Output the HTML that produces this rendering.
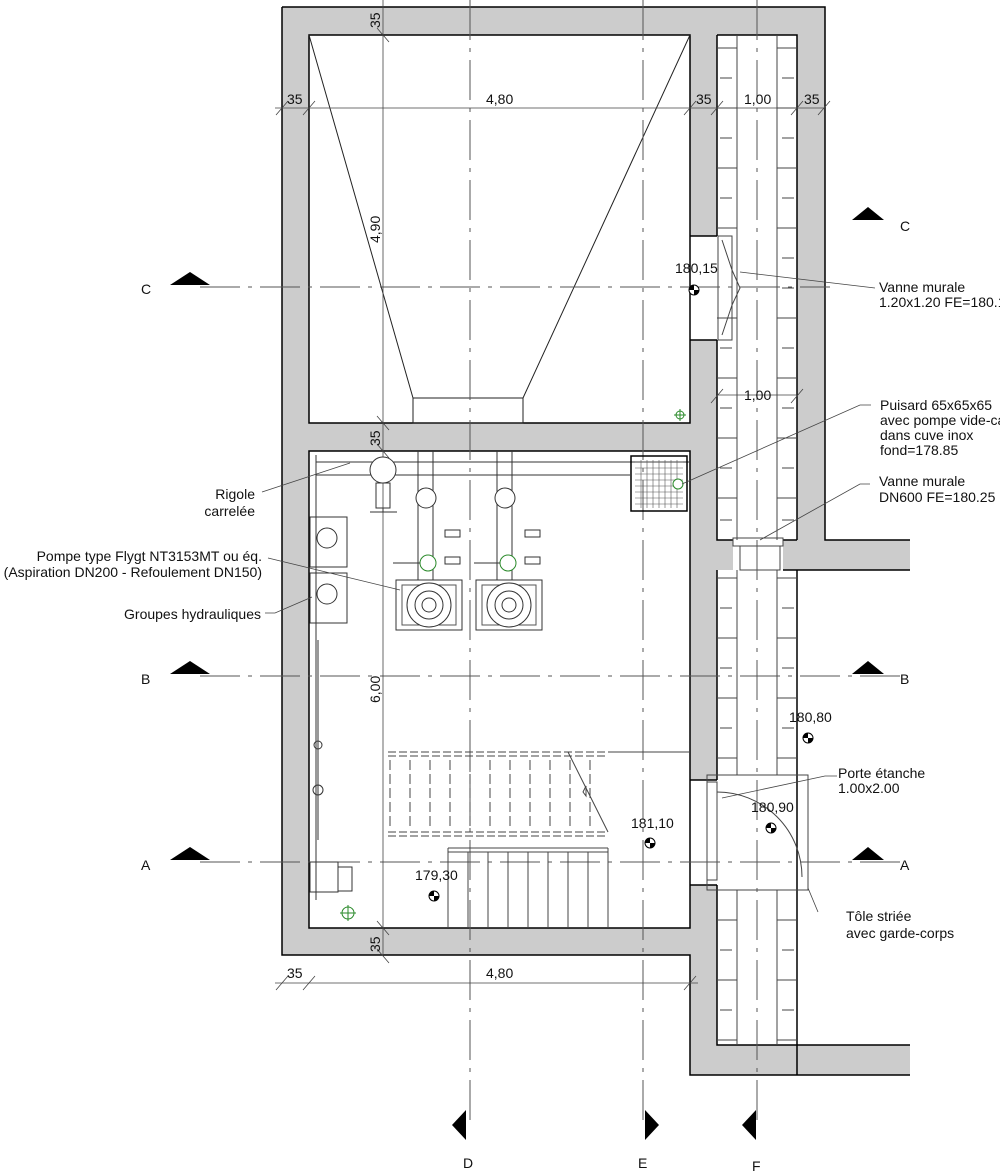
<!DOCTYPE html>
<html><head><meta charset="utf-8"><style>
html,body{margin:0;padding:0;background:#fff;}
svg{display:block;}
text{font-family:"Liberation Sans",sans-serif;font-size:14px;fill:#111;}
</style></head><body>
<svg width="1000" height="1171" viewBox="0 0 1000 1171" xmlns="http://www.w3.org/2000/svg">
<defs>
<g id="lvl"><circle r="5" fill="#fff" stroke="#000" stroke-width="1"/><path d="M0,0 L5,0 A5,5 0 0 1 0,5 Z M0,0 L-5,0 A5,5 0 0 1 0,-5 Z" fill="#000"/></g>
<g id="pump">
<rect x="-33" y="0" width="66" height="50" fill="#fff" stroke="#333"/>
<rect x="-27" y="5" width="54" height="40" fill="none" stroke="#555"/>
<circle cx="0" cy="25" r="22" fill="#fff" stroke="#333"/>
<circle cx="0" cy="25" r="14" fill="none" stroke="#333"/>
<circle cx="0" cy="25" r="7" fill="none" stroke="#333"/>
</g>
</defs>
<!-- gray walls -->
<g fill="#ccc" stroke="none">
<rect x="282" y="7" width="543" height="28"/>
<rect x="282" y="7" width="27" height="948"/>
<rect x="282" y="928" width="435" height="27"/>
<rect x="309" y="423" width="408" height="28"/>
<rect x="690" y="35" width="27" height="201"/>
<rect x="690" y="340" width="27" height="83"/>
<rect x="690" y="451" width="27" height="329"/>
<rect x="690" y="885" width="27" height="190"/>
<rect x="797" y="35" width="28" height="505"/>
<rect x="690" y="1045" width="220" height="30"/>
<rect x="783" y="540" width="127" height="30"/>
<rect x="690" y="540" width="43" height="30"/>
</g>
<g fill="none" stroke="#000" stroke-width="1.5">
<path d="M282,7 H825 V540 H910"/>
<path d="M282,7 V955 H690 V1075 H910"/>
<rect x="309" y="35" width="381" height="388"/>
<rect x="309" y="451" width="381" height="477"/>
<path d="M717,35 H797 V540 M717,35 V236 M717,340 V540 H733 M783,540 H797"/>
<path d="M690,236 H717 M690,340 H717"/>
<path d="M717,570 V780 M717,885 V1045 H910 M797,570 V1045 M783,570 H910"/>
<path d="M690,780 H717 M690,885 H717 M797,1045 V1075"/>
</g>
<!-- channel pattern -->
<g stroke="#444" stroke-width="1" fill="none">
<path d="M737,35 V540 M777,35 V540 M737,570 V775 M777,570 V775 M737,890 V1045 M777,890 V1045"/>
<path d="M717,48 H737 M777,48 H797 M717,108 H737 M777,108 H797 M717,168 H737 M777,168 H797 M717,228 H737 M777,228 H797 M717,318 H737 M777,318 H797 M717,378 H737 M777,378 H797 M717,438 H737 M777,438 H797 M717,498 H737 M777,498 H797"/>
<path d="M720,78 H732 M782,78 H794 M720,138 H732 M782,138 H794 M720,198 H732 M782,198 H794 M782,258 H794 M782,288 H794 M720,348 H732 M782,348 H794 M720,408 H732 M782,408 H794 M720,468 H732 M782,468 H794 M720,520 H732 M782,520 H794"/>
<path d="M717,578 H737 M777,578 H797 M717,638 H737 M777,638 H797 M717,698 H737 M777,698 H797 M717,758 H737 M777,758 H797"/>
<path d="M720,608 H732 M782,608 H794 M720,668 H732 M782,668 H794 M720,728 H732 M782,728 H794"/>
<path d="M717,920 H737 M777,920 H797 M717,980 H737 M777,980 H797 M717,1040 H737 M777,1040 H797"/>
<path d="M720,950 H732 M782,950 H794 M720,1010 H732 M782,1010 H794"/>
<rect x="718" y="236" width="14" height="104"/>
<path d="M722,240 L732,270 L740,288 L732,305 L722,335"/>
<rect x="733" y="538" width="50" height="8"/>
<rect x="740" y="546" width="40" height="24"/>
<rect x="707" y="775" width="101" height="115"/>
<rect x="707" y="782" width="10" height="98"/>
<path d="M717,792 A85,85 0 0 1 802,877"/>
</g>
<!-- hopper -->
<g stroke="#222" stroke-width="1" fill="none">
<path d="M309,35 L413,398 M690,35 L523,398"/>
<rect x="413" y="398" width="110" height="25"/>
</g>
<!-- axis lines -->
<g stroke="#555" stroke-width="1" stroke-dasharray="40,8,4,8" fill="none">
<path d="M470,0 V1120 M643,0 V1120 M757,0 V1120"/>
<path d="M200,287 H830 M200,676 H900 M200,862 H900"/>
</g>
<!-- dimension lines -->
<g stroke="#444" stroke-width="0.8" fill="none">
<path d="M275,108 H825 M383,0 V955 M275,983 H698"/>
<path d="M276,115 l12,-14 M303,115 l12,-14 M684,115 l12,-14 M711,115 l12,-14 M791,115 l12,-14 M818,115 l12,-14"/>
<path d="M377,28 l12,14 M377,416 l12,14 M377,444 l12,14 M377,921 l12,14 M377,949 l12,14"/>
<path d="M276,990 l12,-14 M303,990 l12,-14 M684,990 l12,-14"/>
<path d="M711,403 l12,-14 M791,403 l12,-14 M717,395 H797"/>
</g>
<g font-size="13">
<text x="287" y="104">35</text><text x="486" y="104">4,80</text><text x="696" y="104">35</text><text x="744" y="104">1,00</text><text x="804" y="104">35</text>
<text x="287" y="978">35</text><text x="486" y="978">4,80</text><text x="744" y="400">1,00</text>
<text transform="translate(380,28) rotate(-90)">35</text>
<text transform="translate(380,243) rotate(-90)">4,90</text>
<text transform="translate(380,446) rotate(-90)">35</text>
<text transform="translate(380,703) rotate(-90)">6,00</text>
<text transform="translate(380,952) rotate(-90)">35</text>
</g>
<!-- section markers -->
<g fill="#000">
<path d="M170,285 L190,272 L210,285 Z"/><path d="M170,674 L190,661 L210,674 Z"/><path d="M170,860 L190,847 L210,860 Z"/>
<path d="M852,220 L868,207 L884,220 Z"/><path d="M852,674 L868,661 L884,674 Z"/><path d="M852,860 L868,847 L884,860 Z"/>
<path d="M466,1110 L466,1140 L452,1125 Z"/><path d="M645,1110 L645,1140 L659,1125 Z"/><path d="M756,1110 L756,1140 L742,1125 Z"/>
</g>
<g font-size="15"><text x="141" y="294">C</text><text x="141" y="684">B</text><text x="141" y="870">A</text>
<text x="900" y="231">C</text><text x="900" y="684">B</text><text x="900" y="870">A</text>
<text x="463" y="1168">D</text><text x="638" y="1168">E</text><text x="752" y="1171">F</text></g>
<!-- pipes/equipment in pump room -->
<g stroke="#333" stroke-width="1" fill="none">
<path d="M316,462 H690 M316,475 H630"/>
<path d="M418,451 V580 M433,451 V580 M497,451 V580 M512,451 V580"/>
<circle cx="383" cy="470" r="13" fill="#fff"/><rect x="376" y="483" width="14" height="25"/><path d="M370,512 H397 M383,508 V512"/>
<circle cx="426" cy="498" r="10" fill="#fff"/><circle cx="505" cy="498" r="10" fill="#fff"/>
<circle cx="428" cy="563" r="8" stroke="#2a8a2a" fill="#fff"/><circle cx="508" cy="563" r="8" stroke="#2a8a2a" fill="#fff"/>
<path d="M393,563 H420 M474,563 H500"/>
<rect x="445" y="530" width="15" height="7"/><rect x="525" y="530" width="15" height="7"/>
<rect x="445" y="557" width="15" height="7"/><rect x="525" y="557" width="15" height="7"/>
<path d="M316,455 V900"/>
<rect x="310" y="517" width="37" height="50"/><rect x="310" y="573" width="37" height="50"/>
<circle cx="327" cy="538" r="10"/><circle cx="327" cy="594" r="10"/>
<path d="M318,640 V840"/>
<circle cx="318" cy="790" r="5"/><circle cx="318" cy="745" r="4"/>
<rect x="310" y="862" width="28" height="30"/><rect x="338" y="867" width="14" height="24"/>
<rect x="631" y="456" width="56" height="55" stroke="#000" stroke-width="1.5"/>
</g>
<g stroke="#555" stroke-width="0.6">
<path d="M635,462 H683 M635,468 H683 M635,474 H683 M635,480 H683 M635,486 H683 M635,492 H683 M635,498 H683 M635,504 H683"/>
<path d="M641,460 V508 M647,460 V508 M653,460 V508 M659,460 V508 M665,460 V508 M671,460 V508 M677,460 V508"/>
</g>
<circle cx="678" cy="484" r="5" fill="#fff" stroke="#2a8a2a"/>
<use href="#pump" x="429" y="580"/><use href="#pump" x="509" y="580"/>
<g stroke="#2a8a2a" fill="none"><circle cx="348" cy="913" r="6"/><path d="M340,913 H356 M348,905 V921"/><circle cx="680" cy="415" r="4"/><path d="M674,415 H686 M680,409 V421"/></g>
<!-- stairs -->
<g stroke="#444" stroke-width="1" fill="none">
<path d="M388,752 H608 M388,756 H608 M388,832 H608 M388,836 H608" stroke-dasharray="8,3"/>
<path d="M608,752 H690 M568,752 L608,832 M583,792 l3,-6 l0,10 z"/>
<path d="M390,760 V830 M410,760 V830 M430,760 V830 M450,760 V830 M470,760 V830 M490,760 V830 M510,760 V830 M530,760 V830 M550,760 V830 M570,760 V830 M590,760 V830" stroke-dasharray="10,4"/>
<path d="M448,848 H608 M448,852 H608 M448,848 V928 M468,852 V928 M488,852 V928 M508,852 V928 M528,852 V928 M548,852 V928 M568,852 V928 M588,852 V928 M608,848 V928"/>
</g>
<!-- levels -->
<use href="#lvl" x="694" y="290"/><use href="#lvl" x="808" y="738"/><use href="#lvl" x="771" y="828"/><use href="#lvl" x="650" y="843"/><use href="#lvl" x="434" y="896"/>
<g font-size="13"><text x="675" y="273">180,15</text><text x="789" y="722">180,80</text><text x="751" y="812">180,90</text><text x="631" y="828">181,10</text><text x="415" y="880">179,30</text></g>
<!-- leaders -->
<g stroke="#444" stroke-width="0.8" fill="none">
<path d="M875,288 L740,272 M871,405 H860 L682,484 M870,484 H860 L760,540 M837,776 H825 L722,798 M818,912 L808,888"/>
<path d="M262,492 L350,463 M268,558 L400,590 M265,613 H275 L312,597"/>
</g>
<g font-size="13.5">
<text x="879" y="292">Vanne murale</text><text x="879" y="307">1.20x1.20 FE=180.15</text>
<text x="880" y="410">Puisard 65x65x65</text><text x="880" y="425">avec pompe vide-cave</text><text x="880" y="440">dans cuve inox</text><text x="880" y="455">fond=178.85</text>
<text x="879" y="486">Vanne murale</text><text x="879" y="502">DN600 FE=180.25</text>
<text x="838" y="778">Porte étanche</text><text x="838" y="793">1.00x2.00</text>
<text x="846" y="921">Tôle striée</text><text x="846" y="938">avec garde-corps</text>
<text x="255" y="499" text-anchor="end">Rigole</text><text x="255" y="516" text-anchor="end">carrelée</text>
<text x="262" y="561" text-anchor="end">Pompe type Flygt NT3153MT ou éq.</text>
<text x="262" y="577" text-anchor="end">(Aspiration DN200 - Refoulement DN150)</text>
<text x="261" y="619" text-anchor="end">Groupes hydrauliques</text>
</g>
</svg>
</body></html>
